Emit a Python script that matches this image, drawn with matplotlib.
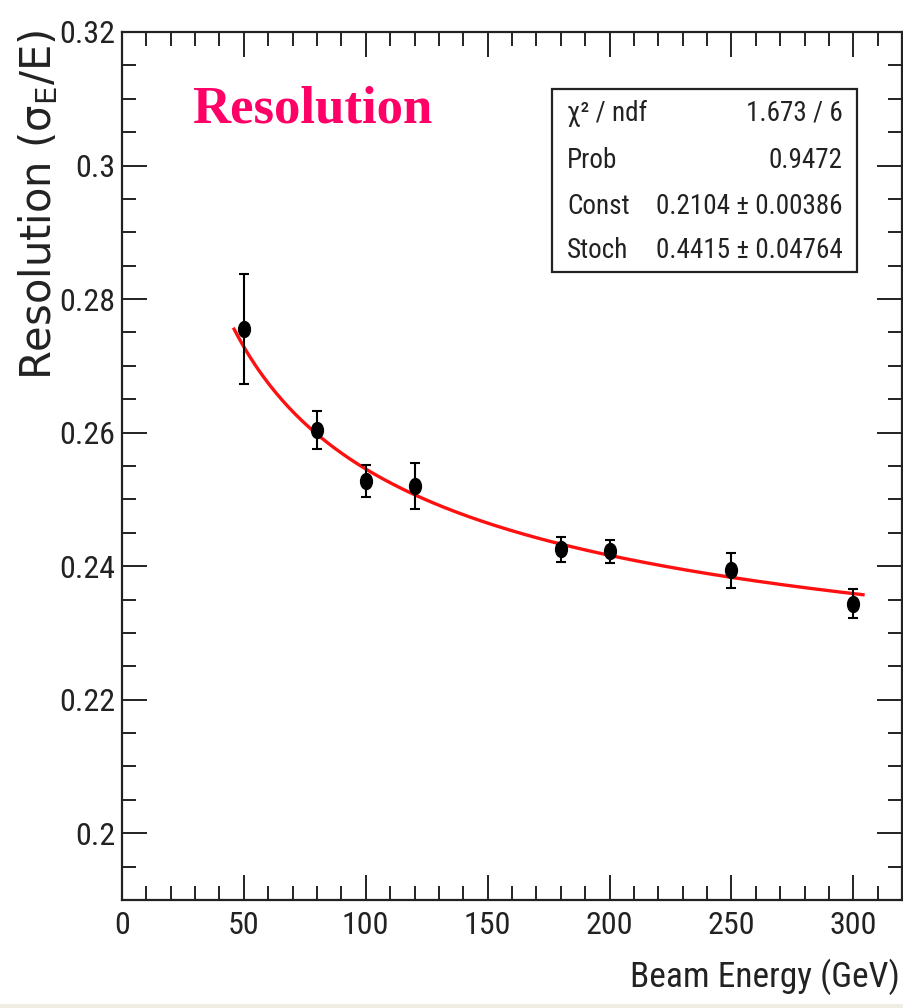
import matplotlib
matplotlib.use("Agg")
import matplotlib.pyplot as plt
import numpy as np
from matplotlib.path import Path
from matplotlib.transforms import Affine2D
from matplotlib.ticker import MultipleLocator, FuncFormatter
from matplotlib.patches import Rectangle

plt.rcParams['font.family'] = ['Roboto Condensed', 'DejaVu Sans']
plt.rcParams['mathtext.fontset'] = 'dejavusans'

# data
energy = [50, 80, 100, 120, 180, 200, 250, 300]
resolution = [0.2755, 0.2604, 0.2527, 0.2520, 0.2425, 0.2422, 0.2394, 0.2344]
res_err = [0.0082, 0.0028, 0.0024, 0.0034, 0.0019, 0.0017, 0.0026, 0.0022]

# fit parameters (stats box)
const = 0.2104
stoch = 0.4415
stat_names = ['\u03c7\u00b2 / ndf', 'Prob', 'Const', 'Stoch']
stat_values = ['1.673 / 6', '0.9472', '0.2104 \u00b1 0.00386', '0.4415 \u00b1 0.04764']

fig = plt.figure(figsize=(9.04, 10.08), dpi=100)
ax = fig.add_axes([122 / 904, 1 - 900 / 1008, 780 / 904, 868 / 1008])

# fit curve  C + S/sqrt(E)
e_fit = np.linspace(46, 304, 300)
ax.plot(e_fit, const + stoch / np.sqrt(e_fit), color='#ff1010', lw=2.4, zorder=2)

ellipse = Path.unit_circle().transformed(Affine2D().scale(1, 1.35))
ax.errorbar(energy, resolution, yerr=res_err, fmt='none', ecolor='black',
            elinewidth=1.5, capsize=3.5, capthick=1.5, zorder=3)
ax.plot(energy, resolution, linestyle='none', marker=ellipse, markersize=11.5,
        color='black', zorder=4)

ax.set_xlim(0, 320)
ax.set_ylim(0.19, 0.32)
ax.xaxis.set_major_locator(MultipleLocator(50))
ax.xaxis.set_minor_locator(MultipleLocator(10))
ax.yaxis.set_major_locator(MultipleLocator(0.02))
ax.yaxis.set_minor_locator(MultipleLocator(0.005))
ax.xaxis.set_major_formatter(FuncFormatter(lambda v, p: '%g' % round(v, 4)))
ax.yaxis.set_major_formatter(FuncFormatter(lambda v, p: '%g' % round(v, 4)))
ax.tick_params(which='both', direction='in', top=True, right=True, width=1.4,
               color='#222222')
ax.tick_params(which='major', length=18)
ax.tick_params(which='minor', length=10)
ax.tick_params(axis='y', labelsize=23, pad=5, colors='#222222')
ax.tick_params(axis='x', labelsize=23, pad=8, colors='#222222')
for s in ax.spines.values():
    s.set_linewidth(1.6)
    s.set_color('#222222')

# title text
ax.text(0.0897, 0.896, 'Resolution', transform=ax.transAxes, fontsize=38,
        fontweight='bold', family='Liberation Serif', color='#ff0066',
        ha='left', va='baseline')

# stats box
ax.add_patch(Rectangle((0.551, 0.7235), 0.391, 0.2105, transform=ax.transAxes,
                       fill=False, lw=1.6, edgecolor='#222222', zorder=5))
rows_y = [0.9067, 0.8525, 0.7995, 0.7488]
for name, val, yy in zip(stat_names, stat_values, rows_y):
    ax.text(0.5705, yy, name, transform=ax.transAxes, fontsize=19.5,
            ha='left', va='center', color='#222222')
    ax.text(0.924, yy, val, transform=ax.transAxes, fontsize=19.5,
            ha='right', va='center', color='#222222')

# axis titles
fig.text(900 / 904, 1 - 987 / 1008, 'Beam Energy (GeV)', fontsize=25.5,
         ha='right', va='baseline', color='#222222')
fig.text(38 / 904, 1 - 30 / 1008, r'Resolution ($\mathrm{\sigma_{E}}$/E)',
         fontsize=30, family='DejaVu Sans', rotation=90,
         ha='center', va='top', color='#222222')

# light strip at bottom
fig.patches.append(Rectangle((0, 0), 1, 4 / 1008, transform=fig.transFigure,
                             facecolor='#efece3', edgecolor='none'))

fig.savefig('out.png', dpi=100)
